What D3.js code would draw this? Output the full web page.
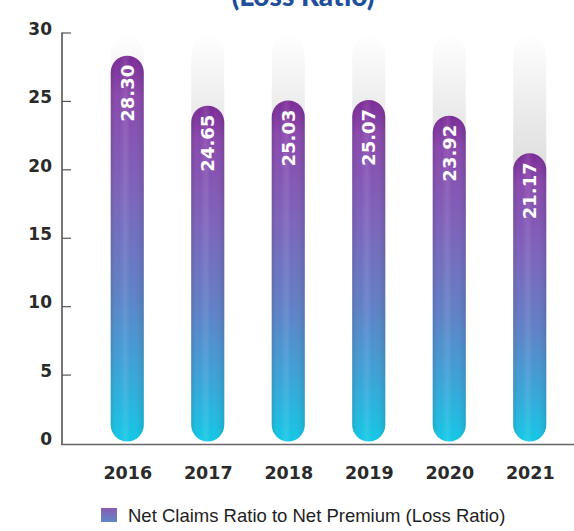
<!DOCTYPE html>
<html>
<head>
<meta charset="utf-8">
<script src="https://cdn.jsdelivr.net/npm/d3@7"></script>
<style>
  html, body { margin: 0; padding: 0; background: #ffffff; }
  svg { display: block; }
</style>
</head>
<body>
<svg id="chart" width="574" height="531"></svg>
<script>
// Net claims ratio to net premium (loss ratio), %
const years = ["2016", "2017", "2018", "2019", "2020", "2021"];
const lossRatio = [28.30, 24.65, 25.03, 25.07, 23.92, 21.17];
const yTicks = [0, 5, 10, 15, 20, 25, 30];
const titleText = "(Loss Ratio)";
const legendLabel = "Net Claims Ratio to Net Premium (Loss Ratio)";

const svg = d3.select("#chart");
const W = 574, H = 531;

const x = d3.scalePoint().domain(years).range([87, 570]).padding(0.5);
const y = d3.scaleLinear().domain([0, 30]).range([443, 32.5]);
const barW = 33;

const defs = svg.append("defs");

// bar fill: purple at the top fading into cyan at the base
const barGrad = defs.append("linearGradient")
  .attr("id", "barGrad").attr("x1", 0).attr("y1", 0).attr("x2", 0).attr("y2", 1);
[
  [0.00, "#7a2b96"], [0.10, "#8a48ad"], [0.35, "#7d63bb"],
  [0.60, "#617fc6"], [0.82, "#3aa4d8"], [1.00, "#12c8e6"]
].forEach(([o, c]) => barGrad.append("stop").attr("offset", o).attr("stop-color", c));

// soft cylinder highlight across each bar
const shine = defs.append("linearGradient")
  .attr("id", "shine").attr("x1", 0).attr("y1", 0).attr("x2", 1).attr("y2", 0);
[
  [0.00, "#000", 0.10], [0.25, "#fff", 0.0], [0.45, "#fff", 0.10],
  [0.60, "#fff", 0.0], [1.00, "#000", 0.10]
].forEach(([o, c, a]) => shine.append("stop").attr("offset", o)
  .attr("stop-color", c).attr("stop-opacity", a));

// grey track behind each bar, fading out toward the top
const track = defs.append("linearGradient")
  .attr("id", "track").attr("gradientUnits", "userSpaceOnUse")
  .attr("x1", 0).attr("y1", y(30)).attr("x2", 0).attr("y2", y(18));
[
  [0.00, "#ffffff"], [0.5, "#eaeaea"], [1.00, "#d9d9d9"]
].forEach(([o, c]) => track.append("stop").attr("offset", o).attr("stop-color", c));

const legendGrad = defs.append("linearGradient")
  .attr("id", "legendGrad").attr("x1", 0).attr("y1", 0).attr("x2", 0).attr("y2", 1);
legendGrad.append("stop").attr("offset", 0).attr("stop-color", "#8a5cb3");
legendGrad.append("stop").attr("offset", 1).attr("stop-color", "#5f86c8");

// title (mostly above the visible area)
svg.append("text")
  .attr("x", 303).attr("y", 6)
  .attr("text-anchor", "middle")
  .attr("font-family", "Lato, 'DejaVu Sans', sans-serif")
  .attr("font-weight", 900)
  .attr("font-size", 28)
  .attr("fill", "#1d4f9c")
  .text(titleText);

// tracks
svg.append("g").selectAll("rect")
  .data(years)
  .join("rect")
  .attr("x", d => x(d) - barW / 2)
  .attr("y", y(30) + 4)
  .attr("width", barW)
  .attr("height", y(0) - y(30) - 6)
  .attr("rx", barW / 2)
  .attr("fill", "url(#track)");

// bars
const bars = svg.append("g");
bars.selectAll("rect.bar")
  .data(lossRatio)
  .join("rect")
  .attr("class", "bar")
  .attr("x", (d, i) => x(years[i]) - barW / 2)
  .attr("y", d => y(d))
  .attr("width", barW)
  .attr("height", d => y(0) - 1.5 - y(d))
  .attr("rx", barW / 2)
  .attr("fill", "url(#barGrad)");
bars.selectAll("rect.shine")
  .data(lossRatio)
  .join("rect")
  .attr("class", "shine")
  .attr("x", (d, i) => x(years[i]) - barW / 2)
  .attr("y", d => y(d))
  .attr("width", barW)
  .attr("height", d => y(0) - 1.5 - y(d))
  .attr("rx", barW / 2)
  .attr("fill", "url(#shine)");

// value labels, vertical inside the top of each bar
svg.append("g").selectAll("text")
  .data(lossRatio)
  .join("text")
  .attr("transform", (d, i) => `translate(${x(years[i]) + 6.5},${y(d) + 9}) rotate(-90)`)
  .attr("text-anchor", "end")
  .attr("font-family", "'DejaVu Sans', sans-serif")
  .attr("font-weight", 700)
  .attr("font-size", 18)
  .attr("fill", "#ffffff")
  .text(d => d.toFixed(2));

// y axis
const yAxis = svg.append("g")
  .attr("transform", `translate(62,0)`)
  .call(d3.axisLeft(y).tickValues(yTicks).tickSize(-9).tickPadding(10).tickFormat(d3.format("d")));
yAxis.select(".domain").remove();
yAxis.selectAll(".tick line").attr("stroke", "#555").attr("stroke-width", 1.2);
yAxis.selectAll(".tick text")
  .attr("font-family", "'DejaVu Sans', sans-serif")
  .attr("font-weight", 700)
  .attr("font-size", 17)
  .attr("fill", "#2a2a2a")
  .attr("dy", "0.1em");
yAxis.selectAll(".tick").filter(d => d === 0).select("line").remove();

// axis lines
svg.append("line")
  .attr("x1", 62).attr("x2", 62).attr("y1", y(30)).attr("y2", 444.5)
  .attr("stroke", "#555").attr("stroke-width", 1.6);
svg.append("line")
  .attr("x1", 61).attr("x2", W).attr("y1", 444.5).attr("y2", 444.5)
  .attr("stroke", "#666").attr("stroke-width", 1.6);

// x labels
const xAxis = svg.append("g")
  .attr("transform", `translate(0,444)`)
  .call(d3.axisBottom(x).tickSize(0).tickPadding(23));
xAxis.select(".domain").remove();
xAxis.selectAll(".tick text")
  .attr("font-family", "'DejaVu Sans', sans-serif")
  .attr("font-weight", 700)
  .attr("font-size", 17.5)
  .attr("fill", "#2a2a2a");

// legend
svg.append("rect")
  .attr("x", 101).attr("y", 508).attr("width", 16).attr("height", 14)
  .attr("fill", "url(#legendGrad)");
svg.append("text")
  .attr("x", 128).attr("y", 522)
  .attr("font-family", "'Liberation Sans Narrow', 'Liberation Sans', sans-serif")
  .attr("font-size", 18.5)
  .attr("fill", "#1e1e1e")
  .text(legendLabel);
</script>
</body>
</html>
